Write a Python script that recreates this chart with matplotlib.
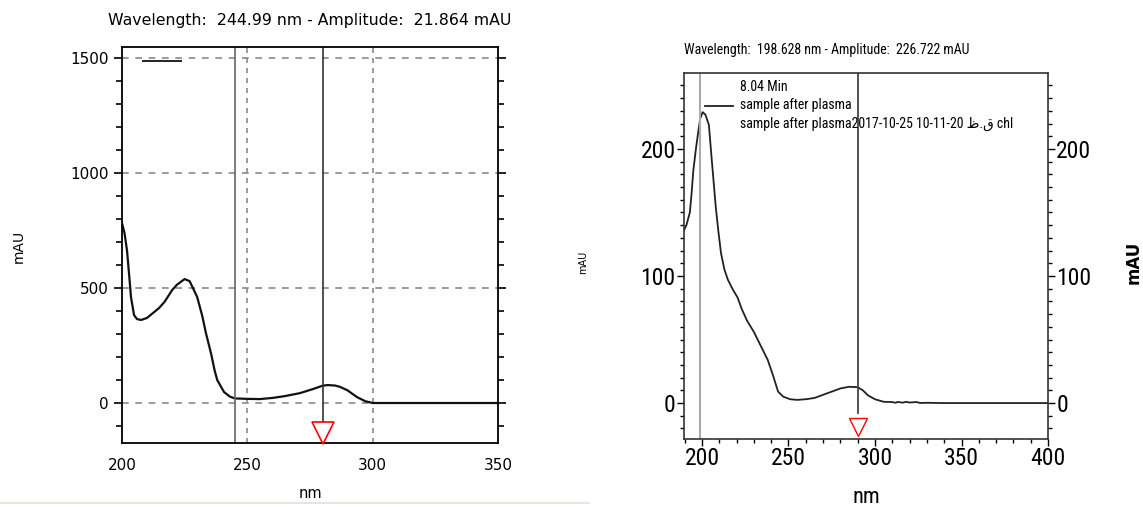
import matplotlib
matplotlib.use("Agg")
import matplotlib.pyplot as plt
from matplotlib.lines import Line2D
from matplotlib.ticker import MultipleLocator

# spectrum at 8.04 min, before plasma
wl_a = [200, 201, 202, 203, 203.6, 204.8, 206, 207.6, 210, 212, 214.8, 217, 220, 222,
        225, 227, 230, 232, 233.5, 235.5, 237, 238, 240.7, 243, 245, 250, 255, 260,
        265, 271, 276, 280, 282, 285, 287, 290, 293.7, 297, 300, 350]
amp_a = [783, 740, 665, 540, 461, 383, 365, 361, 370, 388, 413, 440, 491, 515,
         539, 530, 461, 380, 304, 217, 140, 100, 48, 28, 20, 18, 17, 22,
         30, 43, 60, 75, 78, 76, 70, 55, 26, 8, 0, 0]

# spectrum after plasma
wl_b = [189.6, 191, 193, 194, 195, 196.5, 198, 199, 200.4, 202, 204, 205.5, 207, 208,
        209.5, 211, 213, 215, 218, 220.6, 223, 226, 230, 234, 238, 241, 244, 247,
        251, 255, 260, 265, 270, 275, 280, 285, 290, 293, 296, 300, 305, 310, 312,
        313, 316, 318, 320, 324, 326, 330, 340, 400]
amp_b = [136, 140, 150, 165, 183, 200, 215, 224, 229, 227, 219, 194, 170, 154,
         135, 118, 105, 97, 89, 83, 74, 65, 56, 45, 34, 22, 9, 5,
         3, 2.5, 3, 4, 6.5, 9, 11.5, 12.8, 12.5, 10, 6, 3, 1, 0.8, 0.2,
         0.9, 0.3, 1.0, 0.4, 0.8, 0.1, 0.2, 0, 0]

cursor_a = 244.99
marker_a = 280
cursor_b = 198.628
marker_b = 290

title_a = "Wavelength:  244.99 nm - Amplitude:  21.864 mAU"
title_b = "Wavelength:  198.628 nm - Amplitude:  226.722 mAU"
legend_b = ["8.04 Min", "sample after plasma",
            "sample after plasma2017-10-25 10-11-20 \u0638.\u0642 chl"]

narrow = ["Liberation Sans Narrow", "DejaVu Sans Condensed", "Roboto Condensed",
          "Liberation Sans", "DejaVu Sans"]

fig = plt.figure(figsize=(11.43, 5.07), dpi=100)

# ---- left panel ----
ax1 = fig.add_axes([0.1067, 0.1262, 0.329, 0.781])
ax1.plot(wl_a, amp_a, color="#111111", lw=1.6)
ax1.set_xlim(200, 350)
ax1.set_ylim(-174, 1548)
ax1.set_xticks([200, 250, 300, 350])
ax1.set_yticks([0, 500, 1000, 1500])
ax1.yaxis.set_minor_locator(MultipleLocator(100))
for y in [0, 500, 1000, 1500]:
    ax1.axhline(y, color="#8a8a8a", lw=1.2, ls=(0, (4, 4)), zorder=0)
for x in [250, 300]:
    ax1.axvline(x, color="#8a8a8a", lw=1.2, ls=(0, (3, 3)), zorder=0)
ax1.axvline(cursor_a, color="#666666", lw=1.2)
ax1.axvline(marker_a, color="#333333", lw=1.2)
ax1.plot([marker_a], [0.026], marker="v", ms=16, mfc="white", mec="red", mew=1.2,
         transform=ax1.get_xaxis_transform(), clip_on=False, zorder=5)
ax1.add_line(Line2D([0.056, 0.157], [0.965, 0.965], color="#222222", lw=1.4,
                    transform=ax1.transAxes))
ax1.tick_params(axis="y", which="both", direction="out", left=True, right=True,
                labelsize=11, width=1.2)
ax1.tick_params(axis="y", which="major", length=6)
ax1.tick_params(axis="y", which="minor", length=4)
ax1.tick_params(axis="x", length=0, pad=11, labelsize=11)
for s in ax1.spines.values():
    s.set_linewidth(1.3)
ax1.set_title(title_a, fontsize=11.3, pad=16)
ax1.set_xlabel("nm", fontsize=10.5, labelpad=9)
fig.text(0.016, 0.513, "mAU", rotation=90, fontsize=10, ha="center", va="center")

# ---- right panel ----
ax2 = fig.add_axes([0.5984, 0.1341, 0.3185, 0.7219])
ax2.plot(wl_b, amp_b, color="#222222", lw=1.3)
ax2.set_xlim(189.6, 400)
ax2.set_ylim(-28.3, 259.8)
ax2.set_xticks([200, 250, 300, 350, 400])
ax2.set_yticks([0, 100, 200])
ax2.xaxis.set_minor_locator(MultipleLocator(10))
ax2.yaxis.set_minor_locator(MultipleLocator(10))
ax2.axvline(cursor_b, color="#aaaaaa", lw=1.5)
ax2.axvline(marker_b, ymin=0.07, color="#444444", lw=1.3)
ax2.plot([marker_b], [0.032], marker="v", ms=13, mfc="white", mec="red", mew=1.0,
         transform=ax2.get_xaxis_transform(), clip_on=False, zorder=5)
ax2.tick_params(axis="both", which="both", direction="out", width=1.0)
ax2.tick_params(axis="y", which="both", left=True, right=True, labelright=True)
ax2.tick_params(which="major", length=5, labelsize=17, pad=1)
ax2.tick_params(which="minor", length=3)
for lab in ax2.get_xticklabels() + ax2.get_yticklabels():
    lab.set_family(narrow)
for lab in ax2.yaxis.get_majorticklabels():
    lab.set_family(narrow)
for s in ax2.spines.values():
    s.set_linewidth(1.2)
    s.set_color("#333333")
ax2.set_xlabel("nm", fontsize=16, family=narrow, labelpad=12)
ax2.add_line(Line2D([0.058, 0.135], [0.910, 0.910], color="#222222", lw=1.3,
                    transform=ax2.transAxes))
for i, line in enumerate(legend_b):
    ax2.text(0.155, 0.962 - i * 0.0505, line, transform=ax2.transAxes,
             fontsize=10, family=narrow, va="center", ha="left")
fig.text(0.7235, 0.901, title_b, fontsize=10, family=narrow, ha="center", va="center")
fig.text(0.510, 0.483, "mAU", rotation=90, fontsize=7, ha="center", va="center")
fig.text(0.992, 0.483, "mAU", rotation=90, fontsize=12, weight="bold",
         ha="center", va="center")

# thin separator under the left panel
fig.add_artist(Line2D([0.0, 0.515], [0.008, 0.008], color="#e8e4d8", lw=1.5,
                      transform=fig.transFigure))

fig.savefig("out.png", dpi=100)
